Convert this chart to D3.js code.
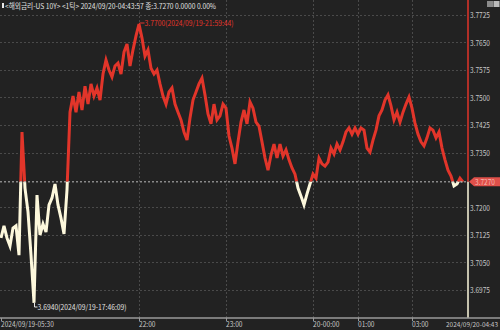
<!DOCTYPE html>
<html><head><meta charset="utf-8">
<script src="https://cdn.jsdelivr.net/npm/d3@7"></script>
<style>
html,body{margin:0;padding:0;background:#222222;}
svg{display:block;}
text{font-family:"Noto Sans CJK KR","DejaVu Sans",sans-serif;}
</style></head>
<body><svg id="c" width="500" height="330"></svg>
<script>
// ---- data ----
const prices = [
3.7117,3.7150,3.7117,3.7095,3.7144,3.7150,3.7070,3.7406,3.7253,3.7188,
3.7070,3.6940,3.7234,3.7125,3.7155,3.7133,3.7207,3.7226,3.7264,3.7207,
3.7171,3.7128,3.7248,3.7460,3.7504,3.7460,3.7515,3.7466,3.7531,3.7482,
3.7537,3.7504,3.7526,3.7493,3.7564,3.7602,3.7575,3.7556,3.7586,3.7594,
3.7564,3.7624,3.7646,3.7586,3.7630,3.7668,3.7700,3.7662,3.7613,3.7630,
3.7580,3.7564,3.7575,3.7537,3.7504,3.7482,3.7515,3.7526,3.7482,3.7460,
3.7439,3.7406,3.7384,3.7444,3.7493,3.7515,3.7537,3.7553,3.7507,3.7455,
3.7428,3.7482,3.7439,3.7450,3.7482,3.7471,3.7395,3.7362,3.7319,3.7379,
3.7433,3.7466,3.7428,3.7488,3.7471,3.7433,3.7422,3.7379,3.7335,3.7302,
3.7343,3.7373,3.7335,3.7373,3.7340,3.7357,3.7330,3.7308,3.7291,3.7253,
3.7231,3.7207,3.7237,3.7264,3.7291,3.7280,3.7335,3.7319,3.7313,3.7324,
3.7362,3.7346,3.7373,3.7357,3.7379,3.7406,3.7417,3.7400,3.7417,3.7400,
3.7417,3.7411,3.7362,3.7351,3.7384,3.7411,3.7450,3.7466,3.7493,3.7507,
3.7477,3.7439,3.7460,3.7433,3.7460,3.7482,3.7501,3.7471,3.7430,3.7400,
3.7379,3.7368,3.7390,3.7417,3.7411,3.7390,3.7406,3.7362,3.7330,3.7302,
3.7286,3.7259,3.7264,3.7280,3.7270
];
const refPrice = 3.7270;
const yTicks = [3.6975,3.7050,3.7125,3.7200,3.7350,3.7425,3.7500,3.7575,3.7650,3.7725];
const xTickIdx = [0,46,75,104,119,137];
const xTickLabels = ["2024/09/19-05:30","22:00","23:00","20-00:00","01:00","03:00"];
const lastTimeLabel = "2024/09/20-04:43";
const headerText = "<해외금리-US 10Y> <1틱> 2024/09/20-04:43:57 종:3.7270 0.0000 0.00%";
const maxLabel = "3.7700(2024/09/19-21:59:44)";
const minLabel = "3.6940(2024/09/19-17:46:09)";

// ---- layout ----
const svg = d3.select("#c");
const plotRight = 468, axisY = 318;
const CW = 3.3; // condensed char width of the terminal font
const x = d3.scaleLinear().domain([0, prices.length-1]).range([1, 463]);
const y = d3.scaleLinear().domain([3.6975, 3.7725]).range([290, 15]);
const RED = "#e2352a", CREAM = "#fdf8dc";
function fit(sel, s){ return sel.attr("textLength", s.length*CW).attr("lengthAdjust","spacingAndGlyphs"); }

// gridlines
svg.append("g").selectAll("line").data(yTicks).join("line")
  .attr("x1",0).attr("x2",plotRight).attr("y1",d=>Math.round(y(d))+0.5).attr("y2",d=>Math.round(y(d))+0.5)
  .attr("stroke","#4a4a4a").attr("stroke-width",1).attr("stroke-dasharray","2,2");
svg.append("g").selectAll("line").data(xTickIdx.slice(1)).join("line")
  .attr("x1",d=>Math.round(x(d))+0.5).attr("x2",d=>Math.round(x(d))+0.5).attr("y1",0).attr("y2",axisY)
  .attr("stroke","#4a4a4a").attr("stroke-width",1).attr("stroke-dasharray","2,2");

// price line, split at reference
const yr = y(refPrice);
const defs = svg.append("defs");
defs.append("clipPath").attr("id","above").append("rect").attr("x",0).attr("y",0).attr("width",plotRight).attr("height",yr);
defs.append("clipPath").attr("id","below").append("rect").attr("x",0).attr("y",yr).attr("width",plotRight).attr("height",axisY-yr);
const line = d3.line().x((d,i)=>x(i)).y(d=>y(d));
svg.append("path").datum(prices).attr("d",line).attr("fill","none").attr("stroke",RED)
  .attr("stroke-width",3).attr("stroke-linejoin","miter").attr("clip-path","url(#above)");
svg.append("path").datum(prices).attr("d",line).attr("fill","none").attr("stroke",CREAM)
  .attr("stroke-width",3).attr("stroke-linejoin","miter").attr("clip-path","url(#below)");

// reference line
svg.append("line").attr("x1",0).attr("x2",plotRight).attr("y1",yr).attr("y2",yr)
  .attr("stroke","#bdbdbd").attr("stroke-width",1).attr("stroke-dasharray","2,2");

// current vertical line
svg.append("line").attr("x1",plotRight).attr("x2",plotRight).attr("y1",0).attr("y2",yr)
  .attr("stroke",RED).attr("stroke-width",1.5);
svg.append("line").attr("x1",plotRight).attr("x2",plotRight).attr("y1",yr).attr("y2",axisY)
  .attr("stroke",CREAM).attr("stroke-width",1.5);

// y axis labels
svg.append("g").selectAll("text").data(yTicks).join("text")
  .attr("x",470).attr("y",d=>y(d)+3).attr("fill","#c8c8c8").attr("font-size",8)
  .text(d=>d.toFixed(4)).attr("textLength",20).attr("lengthAdjust","spacingAndGlyphs");

// current price tag
svg.append("path").attr("d",`M469,${yr} L474,${yr-4.5} L500,${yr-4.5} L500,${yr+4.5} L474,${yr+4.5} Z`).attr("fill","#e0504a");
svg.append("text").attr("x",475).attr("y",yr+3).attr("fill","#f6b8b0").attr("font-size",8)
  .text(refPrice.toFixed(4)).attr("textLength",20).attr("lengthAdjust","spacingAndGlyphs");

// bottom axis
svg.append("line").attr("x1",0).attr("x2",500).attr("y1",axisY).attr("y2",axisY).attr("stroke","#9a9a9a").attr("stroke-width",1.6);
svg.append("g").selectAll("line").data(xTickIdx).join("line")
  .attr("x1",d=>Math.round(x(d))+0.5).attr("x2",d=>Math.round(x(d))+0.5).attr("y1",axisY).attr("y2",axisY+3)
  .attr("stroke","#9a9a9a");
svg.append("g").selectAll("text").data(xTickIdx).join("text")
  .attr("x",d=>Math.round(x(d))).attr("y",327).attr("fill","#c8c8c8").attr("font-size",7.5)
  .text((d,i)=>xTickLabels[i])
  .attr("textLength",(d,i)=>xTickLabels[i].length*CW).attr("lengthAdjust","spacingAndGlyphs");
svg.append("text").attr("x",446).attr("y",327).attr("fill","#c8c8c8").attr("font-size",6.3).text(lastTimeLabel)
  .attr("textLength",52).attr("lengthAdjust","spacingAndGlyphs");

// max / min annotations
const iMax = prices.indexOf(d3.max(prices)), iMin = prices.indexOf(d3.min(prices));
const mx = Math.round(x(iMax))+0.5, my = y(prices[iMax]);
svg.append("path").attr("d",`M${mx},${my} V23 H${mx+5}`).attr("fill","none").attr("stroke",RED).attr("stroke-width",1);
fit(svg.append("text").attr("x",mx+5).attr("y",26).attr("fill",RED).attr("font-size",7.5).text(maxLabel), maxLabel);
const nx = Math.round(x(iMin))+0.5, ny = y(prices[iMin]);
svg.append("path").attr("d",`M${nx},${ny} V307 H${nx+3}`).attr("fill","none").attr("stroke","#e8e8e8").attr("stroke-width",1);
fit(svg.append("text").attr("x",nx+3).attr("y",310).attr("fill","#e0e0e0").attr("font-size",7.5).text(minLabel), minLabel);

// header
svg.append("rect").attr("x",2).attr("y",3).attr("width",2).attr("height",5).attr("fill","#e8e8e8");
svg.append("text").attr("x",5).attr("y",9).attr("fill","#e0e0e0").attr("font-size",7.5)
  .text(headerText).attr("textLength",211).attr("lengthAdjust","spacingAndGlyphs");

// top-right icons
svg.append("rect").attr("x",487).attr("y",1).attr("width",6).attr("height",6).attr("fill","#8a8a8a");
svg.append("rect").attr("x",493.5).attr("y",1).attr("width",6).attr("height",6).attr("fill","#bbbbbb");
</script></body></html>
